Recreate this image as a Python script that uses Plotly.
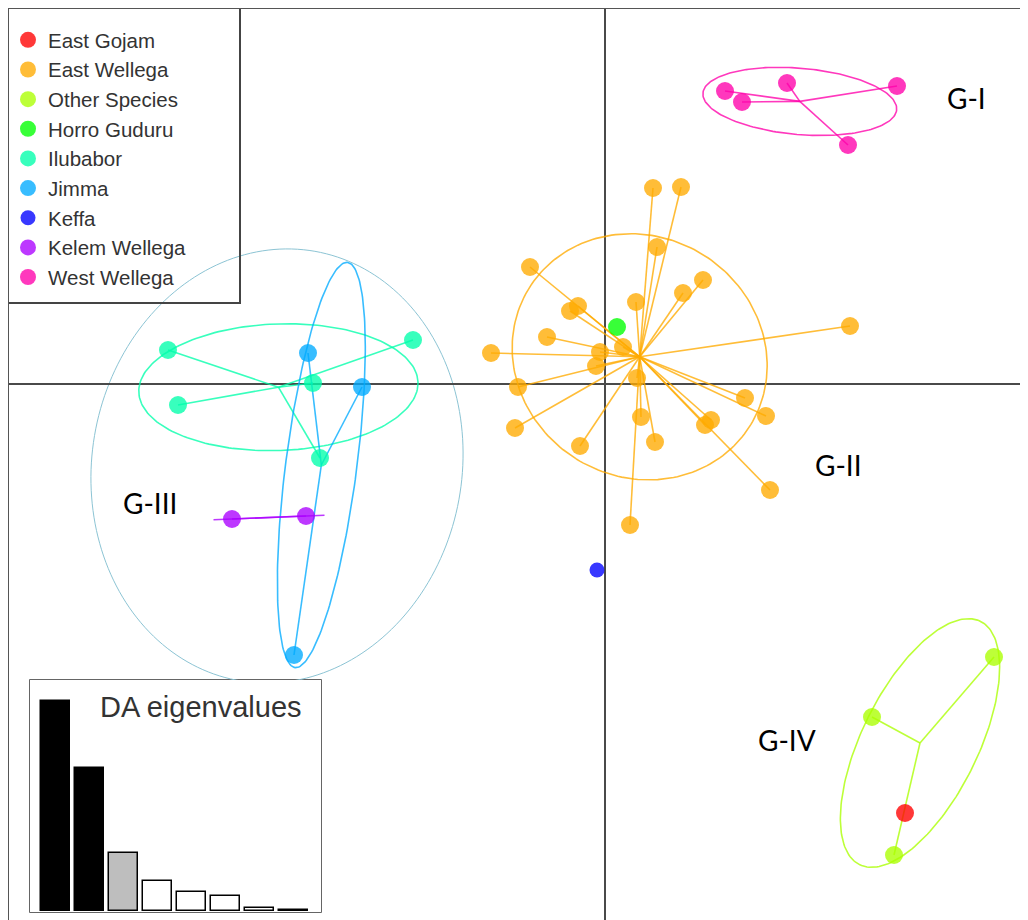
import numpy as np
import plotly.graph_objects as go

# ---------------- data (LD1, LD2 scores) ----------------
groups = ["East Gojam", "East Wellega", "Other Species", "Horro Guduru", "Ilubabor",
          "Jimma", "Keffa", "Kelem Wellega", "West Wellega"]
colors = ["rgba(255,0,0,0.78)", "rgba(255,170,0,0.78)", "rgba(170,255,0,0.78)",
          "rgba(0,255,0,0.78)", "rgba(0,255,170,0.78)", "rgba(0,170,255,0.78)",
          "rgba(0,0,255,0.78)", "rgba(170,0,255,0.78)", "rgba(255,0,170,0.78)"]

east_gojam_ld1 = [3.00]
east_gojam_ld2 = [-4.29]
east_wellega_ld1 = [0.48, 0.76, 0.52, -0.75, 0.98, 0.78, 0.31, -0.35, -0.27, -0.58, -1.14, 0.18,
                    -0.05, -0.09, 2.45, 0.32, -0.87, 1.40, 1.61, 1.00, 1.06, 0.36, -0.90, -0.25,
                    0.50, 1.65, 0.25]
east_wellega_ld2 = [1.96, 1.97, 1.37, 1.17, 1.04, 0.91, 0.82, 0.73, 0.78, 0.47, 0.31, 0.37,
                    0.32, 0.18, 0.58, 0.06, -0.03, -0.14, -0.32, -0.41, -0.36, -0.33, -0.44, -0.62,
                    -0.58, -1.06, -1.41]
other_species_ld1 = [2.67, 3.89, 2.89]
other_species_ld2 = [-3.33, -2.73, -4.71]
horro_guduru_ld1 = [0.12]
horro_guduru_ld2 = [0.57]
ilubabor_ld1 = [-4.37, -4.27, -2.92, -2.85, -1.92]
ilubabor_ld2 = [0.34, -0.21, 0.01, -0.74, 0.44]
jimma_ld1 = [-2.97, -2.43, -3.11]
jimma_ld2 = [0.31, -0.03, -2.71]
keffa_ld1 = [-0.08]
keffa_ld2 = [-1.86]
kelem_wellega_ld1 = [-3.73, -2.99]
kelem_wellega_ld2 = [-1.35, -1.32]
west_wellega_ld1 = [1.20, 1.37, 1.82, 2.92, 2.43]
west_wellega_ld2 = [2.93, 2.82, 3.01, 2.98, 2.39]

group_ld1 = [east_gojam_ld1, east_wellega_ld1, other_species_ld1, horro_guduru_ld1, ilubabor_ld1,
             jimma_ld1, keffa_ld1, kelem_wellega_ld1, west_wellega_ld1]
group_ld2 = [east_gojam_ld2, east_wellega_ld2, other_species_ld2, horro_guduru_ld2, ilubabor_ld2,
             jimma_ld2, keffa_ld2, kelem_wellega_ld2, west_wellega_ld2]

# DA eigenvalues (inset)
da_eigenvalues = [210, 143, 58, 30, 19, 15, 3.5, 1.5]
eig_fill = ["black", "black", "#bebebe", "white", "white", "white", "white", "white"]

# cluster labels
cluster_labels = ["G-I", "G-II", "G-III", "G-IV"]
cluster_ld1 = [3.61, 2.33, -4.55, 1.82]
cluster_ld2 = [2.86, -0.81, -1.19, -3.56]

# outer G-III ellipse (centre, semi-axes, angle in degrees)
g3_center = (-3.28, -0.82)
g3_axes = (2.18, 1.85)
g3_angle = 80

CELLIPSE = 1.5

fig = go.Figure()

def ellipse_xy(x, y, k=CELLIPSE, n=200):
    pts = np.column_stack([x, y])
    m = pts.mean(axis=0)
    c = np.cov(pts.T, bias=True)
    vals, vecs = np.linalg.eigh(c)
    vals = np.clip(vals, 0, None)
    t = np.linspace(0, 2 * np.pi, n)
    circ = np.vstack([np.cos(t), np.sin(t)])
    e = vecs @ (np.sqrt(vals)[:, None] * circ) * k
    return m[0] + e[0], m[1] + e[1]

# stars and ellipses
for g, x, y, col in zip(groups, group_ld1, group_ld2, colors):
    if len(x) < 2:
        continue
    cx, cy = np.mean(x), np.mean(y)
    sx, sy = [], []
    for xi, yi in zip(x, y):
        sx += [cx, xi, None]
        sy += [cy, yi, None]
    fig.add_trace(go.Scatter(x=sx, y=sy, mode="lines", line=dict(color=col, width=1.6),
                             showlegend=False, hoverinfo="skip"))
    ex, ey = ellipse_xy(x, y)
    fig.add_trace(go.Scatter(x=ex, y=ey, mode="lines", line=dict(color=col, width=1.6),
                             showlegend=False, hoverinfo="skip"))

# points (draw order so that East Gojam sits on top)
order = [1, 2, 3, 4, 5, 6, 7, 8, 0]
for i in order:
    size = 15 if groups[i] == "Keffa" else 18
    fig.add_trace(go.Scatter(x=group_ld1[i], y=group_ld2[i], mode="markers", name=groups[i],
                             marker=dict(color=colors[i], size=size, line=dict(width=0)),
                             legendrank=i + 1, showlegend=True))

# outer G-III ellipse
t = np.linspace(0, 2 * np.pi, 200)
a, b = g3_axes
th = np.deg2rad(g3_angle)
gx = g3_center[0] + a * np.cos(t) * np.cos(th) - b * np.sin(t) * np.sin(th)
gy = g3_center[1] + a * np.cos(t) * np.sin(th) + b * np.sin(t) * np.cos(th)
path = "M " + " L ".join(f"{px:.4f},{py:.4f}" for px, py in zip(gx, gy)) + " Z"
shapes = [dict(type="path", path=path, xref="x", yref="y", line=dict(color="#8cc4d4", width=1),
               layer="below")]

# cluster labels
annotations = []
for lab, lx, ly in zip(cluster_labels, cluster_ld1, cluster_ld2):
    annotations.append(dict(x=lx, y=ly, xref="x", yref="y", text=lab, showarrow=False,
                            font=dict(family="Lato", size=28, color="black")))

# page is offset by the browser's 8px body margin -> figure covers screen 8..1028 / 8..920
OFF = 8
W, H = 1028 - OFF, 920 - OFF
def px2paper_x(sx):
    return (sx - OFF) / W
def px2paper_y(sy):
    return (920 - sy) / H

ins_x0, ins_x1 = px2paper_x(30), px2paper_x(321)
ins_y0, ins_y1 = px2paper_y(912), px2paper_y(680)
shapes.append(dict(type="rect", xref="paper", yref="paper", x0=ins_x0, x1=ins_x1, y0=ins_y0, y1=ins_y1,
                   fillcolor="white", line=dict(color="#333333", width=1.5), layer="below"))

fig.add_trace(go.Bar(x=list(range(1, len(da_eigenvalues) + 1)), y=da_eigenvalues,
                     marker=dict(color=eig_fill, line=dict(color="black", width=1.5)),
                     width=0.85, xaxis="x2", yaxis="y2", showlegend=False, hoverinfo="skip"))
annotations.append(dict(x=px2paper_x(304), y=px2paper_y(707), xref="paper", yref="paper",
                        text="DA eigenvalues", showarrow=False, xanchor="right", yanchor="middle",
                        font=dict(family="Liberation Sans", size=29, color="#333333")))

# legend box + plot border
shapes.append(dict(type="rect", xref="paper", yref="paper", x0=0, x1=px2paper_x(240),
                   y0=px2paper_y(303), y1=1, line=dict(color="#444444", width=2),
                   fillcolor="rgba(0,0,0,0)"))
shapes.append(dict(type="line", xref="paper", yref="paper", x0=0, x1=1, y0=1, y1=1,
                   line=dict(color="#555555", width=2)))
shapes.append(dict(type="line", xref="paper", yref="paper", x0=0, x1=0, y0=0, y1=1,
                   line=dict(color="#555555", width=2)))

x_lo, x_hi = (OFF - 605) / 100, (1028 - 605) / 100
y_hi, y_lo = (384 - OFF) / 100, (384 - 920) / 100

fig.update_layout(
    width=W, height=H,
    margin=dict(l=0, r=0, t=0, b=0, autoexpand=False),
    paper_bgcolor="white", plot_bgcolor="white",
    xaxis=dict(range=[x_lo, x_hi], showgrid=False, showticklabels=False, ticks="",
               zeroline=True, zerolinecolor="#4a4a4a", zerolinewidth=2, showline=False),
    yaxis=dict(range=[y_lo, y_hi], showgrid=False, showticklabels=False, ticks="",
               zeroline=True, zerolinecolor="#4a4a4a", zerolinewidth=2, showline=False),
    xaxis2=dict(domain=[ins_x0, ins_x1], anchor="y2", range=[0.25, 8.81], showgrid=False,
                zeroline=False, showticklabels=False, ticks="", showline=False),
    yaxis2=dict(domain=[ins_y0, ins_y1], anchor="x2", range=[-1, 231], showgrid=False,
                zeroline=False, showticklabels=False, ticks="", showline=False),
    shapes=shapes,
    annotations=annotations,
    showlegend=True,
    legend=dict(x=0.0, y=1 - 12 / H, xanchor="left", yanchor="top", bgcolor="rgba(0,0,0,0)",
                borderwidth=0, font=dict(family="Liberation Sans", size=20.5, color="#333333"),
                traceorder="normal", itemsizing="trace", tracegroupgap=0),
    bargap=0,
)

fig.write_html("out.html")
